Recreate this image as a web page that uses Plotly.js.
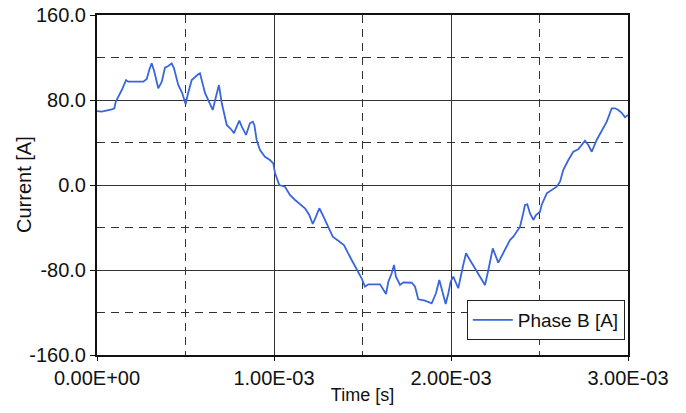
<!DOCTYPE html>
<html>
<head>
<meta charset="utf-8">
<script src="https://cdn.plot.ly/plotly-3.0.1.min.js"></script>
<style>html,body{margin:0;padding:0;background:#fff;}#chart{width:686px;height:413px;}</style>
</head>
<body>
<div id="chart"></div>
<script>
// Time in seconds
const timeS = [
0.0e-3,0.027e-3,0.083e-3,0.098e-3,0.106e-3,0.140e-3,0.164e-3,0.177e-3,0.262e-3,0.281e-3,
0.295e-3,0.309e-3,0.324e-3,0.346e-3,0.366e-3,0.384e-3,0.403e-3,0.422e-3,0.435e-3,0.459e-3,
0.482e-3,0.501e-3,0.512e-3,0.535e-3,0.572e-3,0.582e-3,0.610e-3,0.629e-3,0.654e-3,0.672e-3,
0.689e-3,0.705e-3,0.733e-3,0.761e-3,0.774e-3,0.785e-3,0.804e-3,0.818e-3,0.842e-3,0.864e-3,
0.880e-3,0.889e-3,0.902e-3,0.921e-3,0.949e-3,0.977e-3,0.996e-3,1.006e-3,1.030e-3,1.062e-3,
1.090e-3,1.119e-3,1.147e-3,1.175e-3,1.199e-3,1.219e-3,1.237e-3,1.256e-3,1.275e-3,1.307e-3,
1.332e-3,1.363e-3,1.395e-3,1.429e-3,1.467e-3,1.495e-3,1.514e-3,1.533e-3,1.599e-3,1.633e-3,
1.646e-3,1.665e-3,1.678e-3,1.689e-3,1.712e-3,1.731e-3,1.778e-3,1.797e-3,1.815e-3,1.853e-3,
1.891e-3,1.915e-3,1.934e-3,1.953e-3,1.970e-3,1.985e-3,1.998e-3,2.013e-3,2.041e-3,2.069e-3,
2.085e-3,2.107e-3,2.145e-3,2.192e-3,2.211e-3,2.236e-3,2.267e-3,2.305e-3,2.333e-3,2.352e-3,
2.390e-3,2.408e-3,2.418e-3,2.431e-3,2.446e-3,2.465e-3,2.480e-3,2.503e-3,2.512e-3,2.541e-3,
2.569e-3,2.597e-3,2.616e-3,2.634e-3,2.663e-3,2.691e-3,2.719e-3,2.757e-3,2.776e-3,2.795e-3,
2.823e-3,2.851e-3,2.880e-3,2.908e-3,2.927e-3,2.945e-3,2.964e-3,2.983e-3,3.000e-3
];
// Phase B current in amperes
const phaseB = [
69.6,69.0,71.2,72.2,78.4,89.4,98.8,97.2,97.2,99.8,
108.2,114.5,106.6,91.0,97.2,110.4,112.0,114.5,109.8,94.1,
86.3,76.0,84.7,98.8,104.2,105.1,86.6,80.0,70.6,83.1,
94.1,76.9,56.5,51.8,48.7,53.4,60.5,54.9,47.1,58.1,
59.6,56.5,42.4,32.9,26.6,23.5,20.4,11.0,0.0,-1.6,
-9.4,-14.1,-17.9,-21.9,-28.2,-36.7,-29.8,-21.9,-28.2,-39.2,
-48.7,-52.4,-56.5,-67.5,-78.4,-87.8,-95.7,-93.5,-93.5,-102.6,
-91.0,-83.1,-75.3,-86.3,-94.1,-91.6,-92.0,-95.7,-107.6,-108.9,
-111.3,-101.9,-89.4,-100.4,-112.0,-101.9,-91.0,-86.3,-97.2,-75.3,
-64.3,-70.6,-81.6,-94.1,-80.0,-59.6,-73.1,-61.2,-51.8,-48.7,
-39.2,-26.6,-18.8,-18.2,-26.6,-32.9,-28.2,-25.1,-18.8,-7.8,
-4.7,-1.6,3.1,14.1,23.5,31.3,33.6,41.7,37.6,31.3,
42.4,50.2,59.6,72.2,72.2,70.6,68.0,63.7,65.9
];
const xTickVals = [0, 1e-3, 2e-3, 3e-3];
const xTickText = ['0.00E+00', '1.00E-03', '2.00E-03', '3.00E-03'];
const xMinorVals = [0.5e-3, 1.5e-3, 2.5e-3];
const yTickVals = [-160, -80, 0, 80, 160];
const yTickText = ['-160.0', '-80.0', '0.0', '80.0', '160.0'];
const yMinorVals = [-120, -40, 40, 120];

const FONT = 'Liberation Sans, Arial, sans-serif';
const trace = {
  x: timeS, y: phaseB, type: 'scatter', mode: 'lines',
  name: 'Phase B [A]',
  line: {color: '#3a66dc', width: 1.8}
};
const layout = {
  width: 686, height: 413,
  margin: {l: 97, r: 58, t: 15, b: 58},
  paper_bgcolor: '#fff', plot_bgcolor: '#fff',
  font: {family: FONT, size: 19, color: '#111'},
  showlegend: true,
  legend: {
    x: 0.994, y: 0.044, xanchor: 'right', yanchor: 'bottom',
    bgcolor: '#fff', bordercolor: '#222', borderwidth: 1,
    itemwidth: 40,
    font: {family: FONT, size: 19, color: '#111'}
  },
  xaxis: {
    range: [0, 3e-3], tickmode: 'array', tickvals: xTickVals, ticktext: xTickText,
    showline: true, linecolor: '#111', linewidth: 2, mirror: true,
    ticks: 'outside', ticklen: 4, tickcolor: '#111',
    showgrid: true, gridcolor: '#333', gridwidth: 1, zeroline: false,
    minor: {tickmode: 'array', tickvals: xMinorVals, showgrid: true, gridcolor: '#333', gridwidth: 1, griddash: '8px,6px', ticks: ''},
    title: {text: 'Time [s]', font: {family: FONT, size: 18}, standoff: 0},
    tickfont: {family: FONT, size: 20}
  },
  yaxis: {
    range: [-160, 160], tickmode: 'array', tickvals: yTickVals, ticktext: yTickText,
    showline: true, linecolor: '#111', linewidth: 2, mirror: true,
    ticks: 'outside', ticklen: 5, tickcolor: '#111',
    showgrid: true, gridcolor: '#333', gridwidth: 1, zeroline: false,
    minor: {tickmode: 'array', tickvals: yMinorVals, showgrid: true, gridcolor: '#333', gridwidth: 1, griddash: '8px,6px', ticks: ''},
    tickfont: {family: FONT, size: 20}
  },
  annotations: [{
    text: 'Current [A]', xref: 'paper', yref: 'paper',
    x: (24 - 97) / 531, y: 0.5, xanchor: 'center', yanchor: 'middle',
    textangle: -90, showarrow: false,
    font: {family: FONT, size: 20, color: '#111'}
  }]
};
Plotly.newPlot('chart', [trace], layout, {displayModeBar: false, staticPlot: true});
</script>
</body>
</html>
